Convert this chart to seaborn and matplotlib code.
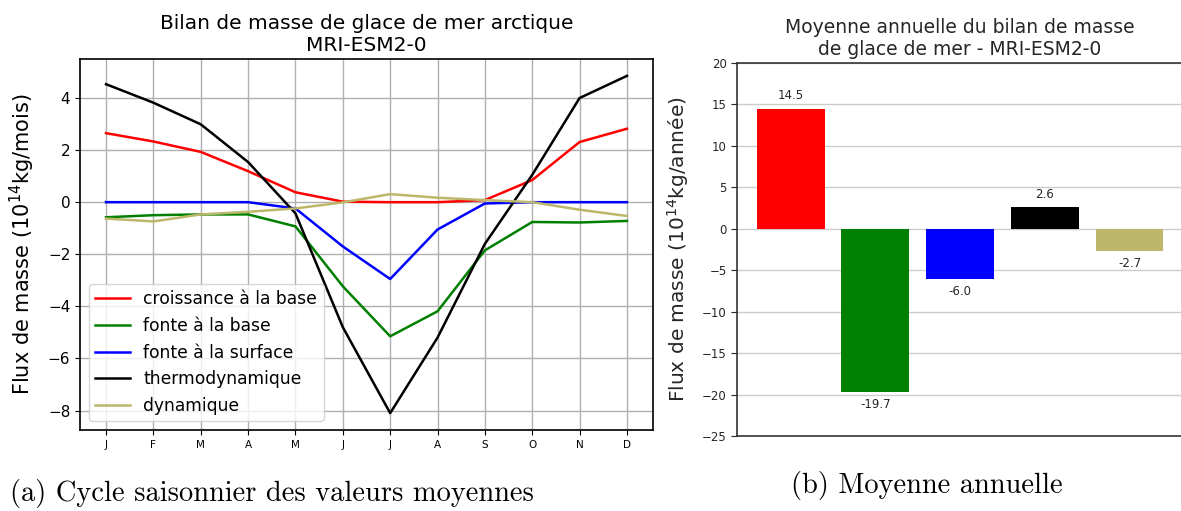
import numpy as np
import pandas as pd
import matplotlib
matplotlib.use("Agg")
import matplotlib.pyplot as plt
import seaborn as sns

# Monthly mean mass-balance terms (10^14 kg / month)
mois = ["J", "F", "M", "A", "M", "J", "J", "A", "S", "O", "N", "D"]
croissance_base = [2.65, 2.33, 1.93, 1.19, 0.38, 0.02, 0.0, 0.0, 0.08, 0.85, 2.31, 2.82]
fonte_base = [-0.58, -0.50, -0.47, -0.47, -0.93, -3.23, -5.15, -4.19, -1.85, -0.76, -0.78, -0.72]
fonte_surface = [0.0, 0.0, 0.0, 0.0, -0.24, -1.70, -2.95, -1.05, -0.05, 0.0, 0.0, 0.0]
thermodynamique = [4.53, 3.82, 2.99, 1.54, -0.43, -4.80, -8.10, -5.20, -1.60, 1.05, 4.00, 4.85]
dynamique = [-0.63, -0.74, -0.47, -0.37, -0.24, -0.01, 0.31, 0.17, 0.08, 0.0, -0.29, -0.53]

termes = ["croissance à la base", "fonte à la base", "fonte à la surface",
          "thermodynamique", "dynamique"]
couleurs = ["red", "green", "blue", "black", "darkkhaki"]

# Annual totals (10^14 kg / year)
moyennes_annuelles = [14.5, -19.7, -6.0, 2.6, -2.7]

series = [croissance_base, fonte_base, fonte_surface, thermodynamique, dynamique]
df = pd.DataFrame({
    "mois": np.tile(np.arange(len(mois)), len(termes)),
    "flux": np.concatenate(series),
    "terme": np.repeat(termes, len(mois)),
})

fig = plt.figure(figsize=(11.81, 5.11), dpi=100)
W, H = 1181, 511

def place(x0, y0, x1, y1):
    return [x0 / W, 1 - y1 / H, (x1 - x0) / W, (y1 - y0) / H]

# ---- seasonal cycle -------------------------------------------------------
ax1 = fig.add_axes(place(80, 59, 653, 430))
sns.lineplot(data=df, x="mois", y="flux", hue="terme", hue_order=termes,
             palette=couleurs, linewidth=1.8, sort=False, estimator=None, ax=ax1)
ax1.set_axisbelow(True)
ax1.grid(True, color="#b0b0b0", linewidth=1.0)
ax1.set_xticks(np.arange(len(mois)))
ax1.set_xticklabels(mois, fontsize=7.5)
ax1.tick_params(axis="y", labelsize=11)
ax1.set_yticks([-8, -6, -4, -2, 0, 2, 4])
ax1.set_xlabel("")
ax1.set_ylabel(r"Flux de masse (10$^{14}$kg/mois)", fontsize=15, labelpad=8)
ax1.set_title("Bilan de masse de glace de mer arctique\nMRI-ESM2-0", fontsize=14.5)
for sp in ax1.spines.values():
    sp.set_linewidth(1.2)
handles, labels = ax1.get_legend_handles_labels()
ax1.legend(handles, labels, loc="lower left", fontsize=12.3)

# ---- annual mean ----------------------------------------------------------
ax2 = fig.add_axes(place(737, 63, 1182, 436))
sns.barplot(x=termes, y=moyennes_annuelles, hue=termes, palette=couleurs,
            saturation=1, legend=False, width=0.8, ax=ax2)
for cont in ax2.containers:
    ax2.bar_label(cont, fmt="%.1f", padding=4.5, fontsize=8.5, color="#262626")
ax2.set_xlim(-0.633, 4.62)
ax2.set_ylim(-25, 20)
ax2.set_yticks(np.arange(-25, 21, 5))
ax2.set_xticks([])
ax2.set_axisbelow(True)
ax2.yaxis.grid(True, color="#cccccc", linewidth=1.0)
ax2.tick_params(axis="y", labelsize=8.5, colors="#262626", length=4)
for sp in ax2.spines.values():
    sp.set_color("#333333")
    sp.set_linewidth(1.2)
ax2.spines["right"].set_visible(False)
ax2.set_ylabel(r"Flux de masse (10$^{14}$kg/année)", fontsize=14.5,
               color="#262626", labelpad=7.5)
ax2.set_title("Moyenne annuelle du bilan de masse\nde glace de mer - MRI-ESM2-0",
              fontsize=13.5, color="#262626")

# ---- captions -------------------------------------------------------------
fig.text(10 / W, 1 - 494 / H, "(a) Cycle saisonnier des valeurs moyennes",
         family="cmr10", fontsize=20.5, ha="left", va="center")
fig.text(927 / W, 1 - 486 / H, "(b) Moyenne annuelle",
         family="cmr10", fontsize=20.5, ha="center", va="center")

fig.savefig("out.png", dpi=100)
